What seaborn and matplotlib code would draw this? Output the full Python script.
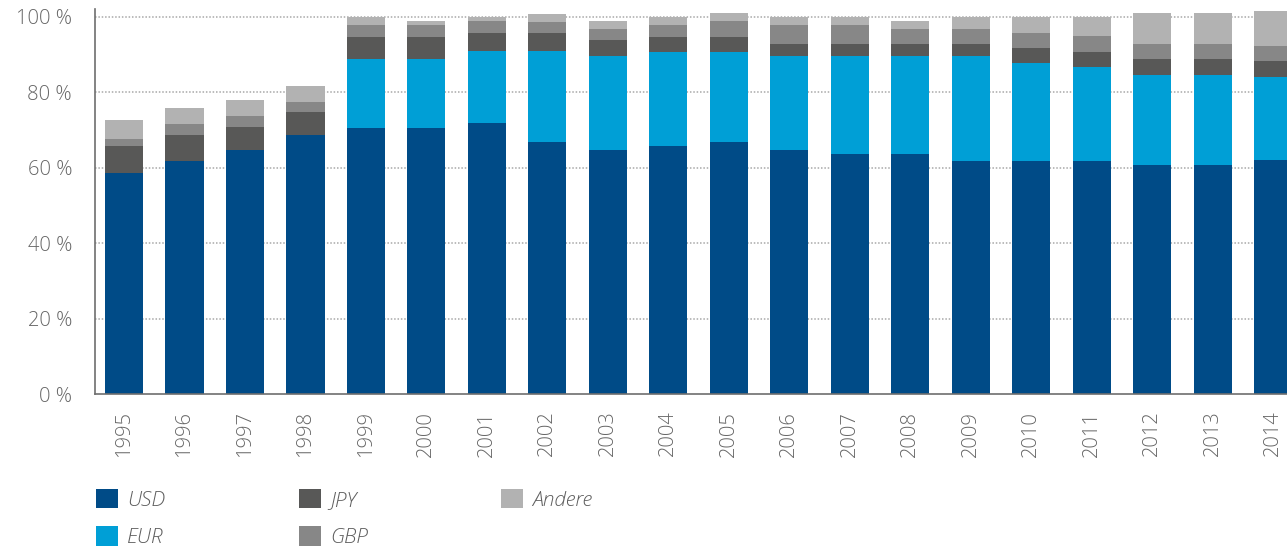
import numpy as np
import pandas as pd
import matplotlib
matplotlib.use("Agg")
import matplotlib.pyplot as plt
import seaborn as sns
from matplotlib.patches import Patch

# Daten: Anteile der Währungen (in %)
years = [str(y) for y in range(1995, 2015)]
usd = [58.6, 61.8, 64.7, 68.6, 70.5, 70.5, 71.8, 66.8, 64.7, 65.7,
       66.8, 64.7, 63.6, 63.6, 61.8, 61.8, 61.8, 60.7, 60.7, 62.0]
eur = [0.0, 0.0, 0.0, 0.0, 18.3, 18.3, 19.1, 24.1, 24.9, 24.9,
       23.8, 24.9, 26.0, 26.0, 27.8, 25.9, 24.9, 23.8, 23.8, 22.0]
jpy = [7.1, 6.8, 6.1, 6.1, 5.8, 5.8, 4.8, 4.8, 4.2, 4.0,
       4.0, 3.2, 3.2, 3.2, 3.2, 4.0, 3.9, 4.3, 4.3, 4.3]
gbp = [1.9, 3.0, 2.9, 2.7, 3.2, 3.2, 3.2, 2.9, 2.9, 3.2,
       4.3, 5.0, 5.0, 3.9, 3.9, 4.0, 4.3, 4.0, 4.0, 3.9]
andere = [5.0, 4.2, 4.2, 4.2, 2.2, 1.1, 1.1, 2.1, 2.2, 2.2,
          2.1, 2.2, 2.2, 2.2, 3.3, 4.3, 5.1, 8.2, 8.2, 9.3]

labels = ["USD", "EUR", "JPY", "GBP", "Andere"]
colors = ["#004b87", "#009fd6", "#585857", "#878787", "#b2b2b2"]

df = pd.DataFrame({"jahr": years, "USD": usd, "EUR": eur, "JPY": jpy,
                   "GBP": gbp, "Andere": andere})
cum = df[labels].cumsum(axis=1)

sns.set_theme(style="white")
plt.rcParams["font.family"] = ["Open Sans", "DejaVu Sans"]

fig = plt.figure(figsize=(12.87, 5.51), dpi=100)
ax = fig.add_axes([95 / 1287, 1 - 394 / 551, 1 - 95 / 1287, 384.8 / 551])

# gestapelte Balken: kumulierte Summen von oben nach unten übereinander zeichnen
for lab, col in reversed(list(zip(labels, colors))):
    sns.barplot(x=df["jahr"], y=cum[lab], order=years, color=col, saturation=1,
                width=0.63, errorbar=None, linewidth=0, ax=ax, zorder=2)

ax.set_xlim(-0.48, 19.23)
ax.set_ylim(0, 102)
ax.set_yticks([0, 20, 40, 60, 80, 100])
ax.set_yticklabels([f"{v} %" for v in [0, 20, 40, 60, 80, 100]])
for v in [20, 40, 60, 80, 100]:
    ax.axhline(v, color="#a8a8a8", lw=1.1, ls=(0, (1, 1.2)), zorder=1)

ax.set_xlabel("")
ax.set_ylabel("")
for s in ["top", "right"]:
    ax.spines[s].set_visible(False)
for s in ["left", "bottom"]:
    ax.spines[s].set_color("#6e6e6e")
    ax.spines[s].set_linewidth(1.2)
ax.tick_params(axis="y", length=0, pad=16.5, labelsize=14.5, labelcolor="#666666")
ax.tick_params(axis="x", length=0, pad=12, labelsize=14.5, labelcolor="#666666",
               rotation=90)
for t in ax.get_xticklabels() + ax.get_yticklabels():
    t.set_fontweight("light")

handles = [Patch(facecolor=c, edgecolor="none") for c in colors]
fig.legend(handles, labels, ncol=3, loc="upper left",
           bbox_to_anchor=(96 / 1287, 1 - 489 / 551), frameon=False,
           borderpad=0, borderaxespad=0, handlelength=1.05, handleheight=1.05,
           handletextpad=0.45, columnspacing=6.4, labelspacing=0.75,
           prop={"size": 15, "style": "italic", "weight": "light"},
           labelcolor="#5e5e5e")

fig.savefig("out.png", dpi=100)
